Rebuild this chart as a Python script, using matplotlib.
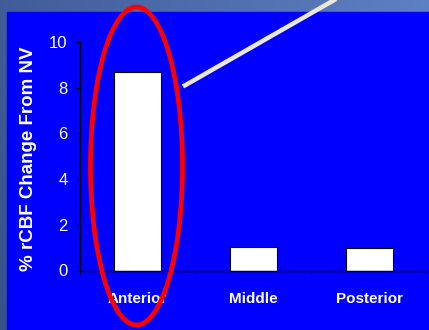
import numpy as np
import matplotlib.pyplot as plt
from matplotlib.patches import Ellipse, Rectangle

# regional change values
regions = ["Anterior", "Middle", "Posterior"]
rcbf_change = [8.67, 1.05, 1.0]
yticks = [0, 2, 4, 6, 8, 10]

W, H = 429, 330
fig = plt.figure(figsize=(W / 100, H / 100), dpi=100)

# slide backdrop: soft blue-grey gradient with a bright blue panel
bg = fig.add_axes([0, 0, 1, 1])
gx = np.linspace(0, 1, 256)
gy = np.linspace(0, 1, 64)
GX, GY = np.meshgrid(gx, gy)
c0 = np.array([0x38, 0x50, 0x8a]) / 255
c1 = np.array([0x5e, 0x80, 0xc4]) / 255
t = (0.75 * GX + 0.25 * (1 - GY))[..., None]
bg.imshow(c0 + (c1 - c0) * t, extent=[0, W, H, 0], aspect="auto")
bg.add_patch(Rectangle((7, 12), W - 7, H - 12, color="#0000ff"))
bg.set_xlim(0, W)
bg.set_ylim(H, 0)
bg.axis("off")

ax = fig.add_axes([79.5 / W, 59.5 / H, 347.5 / W, 228.5 / H])
ax.patch.set_visible(False)
x = np.arange(len(regions))
ax.bar(x, rcbf_change, width=0.405, color="white", edgecolor="black", linewidth=0.8)

ax.set_xlim(-0.5, 2.5)
ax.set_ylim(0, 10)
ax.set_yticks(yticks)
ax.set_xticks(x)
ax.set_xticklabels(regions, fontsize=11, fontweight="bold", color="white",
                   family="Liberation Sans")
ax.set_xticks(np.arange(-0.5, 3, 1), minor=True)
ax.tick_params(axis="x", which="major", length=0, pad=15.5)
ax.tick_params(axis="x", which="minor", length=2.3, direction="out", color="black")
ax.tick_params(axis="y", length=3, color="black", labelcolor="white", labelsize=12, pad=5.5)
for lab in ax.get_yticklabels():
    lab.set_family("Liberation Sans")
for s in ["top", "right"]:
    ax.spines[s].set_visible(False)
for s in ["left", "bottom"]:
    ax.spines[s].set_color("black")
    ax.spines[s].set_linewidth(1)

ax.set_ylabel("% rCBF Change From NV", fontsize=13.5, fontweight="bold", color="white",
              family="Liberation Sans")
ax.yaxis.set_label_coords(-0.122, 0.49)

# highlight around the first bar and the callout line
ov = fig.add_axes([0, 0, 1, 1])
ov.set_xlim(0, W)
ov.set_ylim(H, 0)
ov.axis("off")
ov.add_patch(Ellipse((136.5, 166), 92, 318, fill=False, edgecolor="#ff0000", linewidth=3.4))
ov.plot([183, 336], [86.5, -1], color="#ece9dc", linewidth=3.2, solid_capstyle="butt")

fig.savefig("out.png", dpi=100)
